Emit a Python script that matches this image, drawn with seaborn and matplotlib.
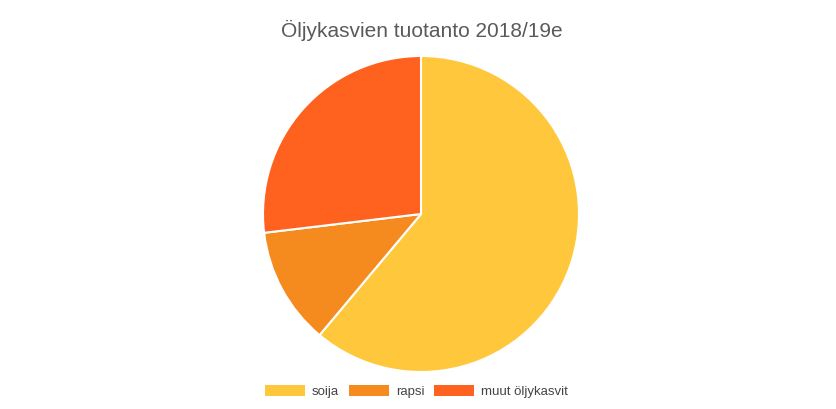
import matplotlib
matplotlib.use("Agg")
import matplotlib.pyplot as plt
from matplotlib.patches import Patch
import seaborn as sns

categories = ["soija", "rapsi", "muut öljykasvit"]
values = [61.1, 12.0, 26.9]
colors = ["#FFC83C", "#F58A1F", "#FF621F"]
title = "Öljykasvien tuotanto 2018/19e"

sns.set_theme(style="white")
plt.rcParams["font.family"] = ["Liberation Sans", "DejaVu Sans"]

W, H = 837, 409
fig = plt.figure(figsize=(W / 100, H / 100), dpi=100)
fig.patch.set_facecolor("white")

cx, cy, r = 421, 214, 158
ax = fig.add_axes([(cx - r) / W, (H - cy - r) / H, 2 * r / W, 2 * r / H])
ax.pie(values, colors=colors, startangle=90, counterclock=False, radius=1,
       wedgeprops=dict(edgecolor="white", linewidth=1.5))
ax.set_xlim(-1, 1)
ax.set_ylim(-1, 1)
ax.set_aspect("auto")
ax.axis("off")

fig.text(422 / W, 1 - 30 / H, title, ha="center", va="center",
         fontsize=15, color="#5a5a5a")

handles = [Patch(facecolor=c, edgecolor="none") for c in colors]
fig.legend(handles, categories, loc="center", ncol=3,
           bbox_to_anchor=(416.5 / W, 1 - 391.5 / H), frameon=False,
           fontsize=9.5, handlelength=3.0, handleheight=0.85,
           handletextpad=0.53, columnspacing=0.76,
           labelcolor="#444444")

fig.savefig("out.png", dpi=100)
